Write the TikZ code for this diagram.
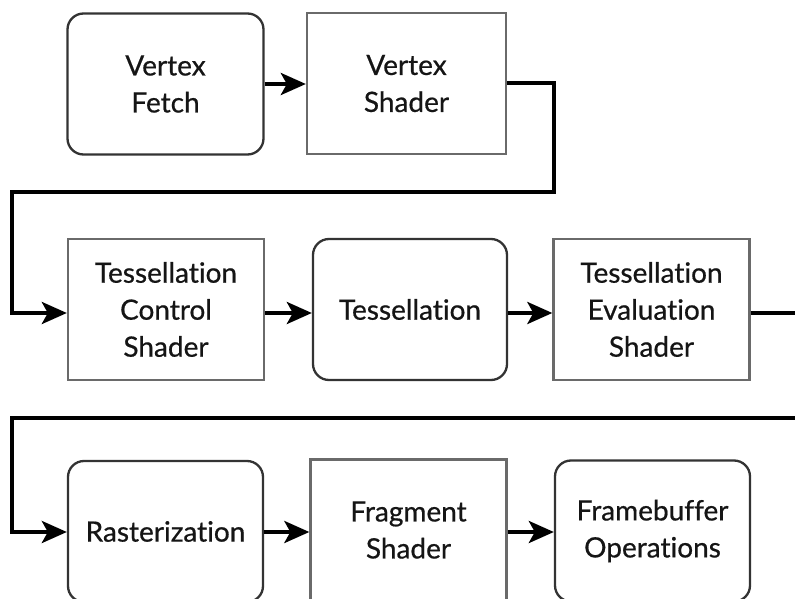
\documentclass[tikz,border=0pt]{standalone}
\usepackage{fontspec}
\setmainfont{Lato}[Ligatures=NoCommon, FakeBold=0.6]
\usetikzlibrary{arrows.meta}
\definecolor{inkc}{HTML}{151515}
\definecolor{roundedge}{HTML}{333333}
\definecolor{squareedge}{HTML}{6A6A6A}
\tikzset{
  stage/.style={draw, line width=2.3pt, minimum width=196pt, minimum height=141pt,
    align=center, inner sep=0pt, text=inkc, font=\fontsize{28}{37}\selectfont},
  roundstage/.style={stage, draw=roundedge, rounded corners=16pt},
  squarestage/.style={stage, draw=squareedge},
  conn/.style={line width=4pt, draw=black},
  flow/.style={conn, -{Stealth[length=25pt,width=22pt,inset=6pt]}},
}
\begin{document}
\begin{tikzpicture}[x=1pt,y=-1pt]
  \useasboundingbox (0,0) rectangle (795,599);
  \clip (0,0) rectangle (795,599);
  \fill[white] (0,0) rectangle (795,599);

  % first row
  \node[roundstage]  (fetch)   at (165.5,84)  {Vertex\\Fetch};
  \node[squarestage, minimum width=199pt] (vshader) at (406.5,83.5) {Vertex\\Shader};

  % second row
  \node[squarestage] (tcs)  at (166,309.5)   {Tessellation\\Control\\Shader};
  \node[roundstage, minimum width=194pt] (tess) at (410,309.5) {Tessellation};
  \node[squarestage] (tes)  at (651.5,309.5) {Tessellation\\Evaluation\\Shader};

  % third row
  \node[roundstage, minimum width=195pt] (rast) at (165.5,531.5) {Rasterization};
  \node[squarestage] (frag) at (408.5,530)   {Fragment\\Shader};
  \node[roundstage, minimum width=195pt] (fb)   at (652.5,531)   {Framebuffer\\Operations};

  % routing points of the wrap-around connectors
  \coordinate (r1a) at (554,83);
  \coordinate (r1b) at (554,192);
  \coordinate (r1c) at (12,192);
  \coordinate (r1d) at (12,313);
  \coordinate (r2a) at (797,313);
  \coordinate (r3a) at (797,418);
  \coordinate (r3b) at (12,418);
  \coordinate (r3c) at (12,532);

  % connectors
  \draw[flow] (fetch.east) -- (fetch.east -| vshader.west);
  \draw[flow] (vshader.east |- r1a) -- (r1a) -- (r1b) -- (r1c) -- (r1d) -- (r1d -| tcs.west);
  \draw[flow] (tcs.east |- r1d) -- (r1d -| tess.west);
  \draw[flow] (tess.east |- r1d) -- (r1d -| tes.west);
  \draw[conn] (tes.east |- r2a) -- (r2a);
  \draw[flow] (r3a) -- (r3b) -- (r3c) -- (r3c -| rast.west);
  \draw[flow] (rast.east |- r3c) -- (r3c -| frag.west);
  \draw[flow] (frag.east |- r3c) -- (r3c -| fb.west);
\end{tikzpicture}
\end{document}
